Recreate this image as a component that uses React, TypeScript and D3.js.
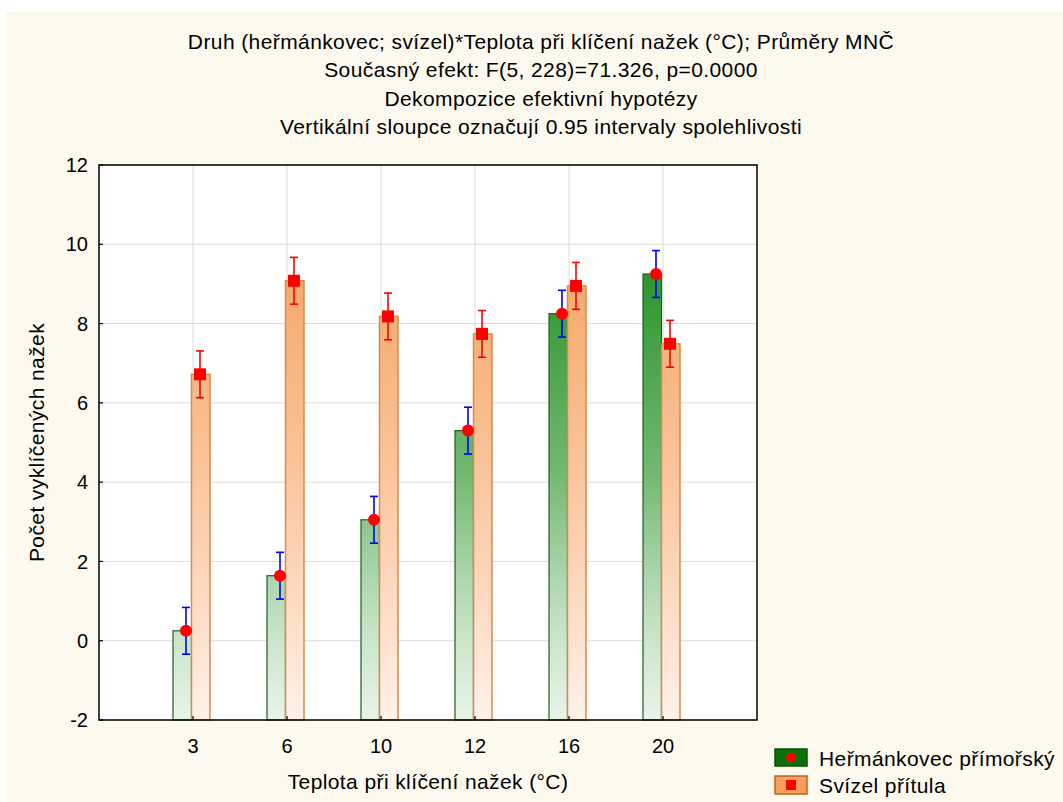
import React from "react";
import * as d3 from "d3";

// Teploty klíčení (°C)
const temperatures = ["3", "6", "10", "12", "16", "20"];
// Průměry MNČ – heřmánkovec přímořský
const hermankovec = [0.25, 1.64, 3.05, 5.3, 8.25, 9.25];
// Průměry MNČ – svízel přítula
const svizel = [6.72, 9.08, 8.18, 7.74, 8.95, 7.49];
// Poloviční šířky 0.95 intervalů spolehlivosti
const ciHermankovec = [0.59, 0.59, 0.59, 0.59, 0.59, 0.59];
const ciSvizel = [0.59, 0.59, 0.59, 0.59, 0.59, 0.59];
const yTicks = [-2, 0, 2, 4, 6, 8, 10, 12];

const titleLines = [
  "Druh (heřmánkovec; svízel)*Teplota při klíčení nažek (°C); Průměry MNČ",
  "Současný efekt: F(5, 228)=71.326, p=0.0000",
  "Dekompozice efektivní hypotézy",
  "Vertikální sloupce označují 0.95 intervaly spolehlivosti",
];

const W = 1063;
const H = 802;
const plot = { left: 99, right: 757, top: 165, bottom: 720 };
const font = "'Liberation Sans', Arial, sans-serif";
const textSize = 21;
const textSpacing = 0.4;
const tickSize = 20;

export default function App() {
  const x = d3
    .scalePoint<string>()
    .domain(temperatures)
    .range([plot.left, plot.right])
    .padding(1);
  const y = d3.scaleLinear().domain([-2, 12]).range([plot.bottom, plot.top]);

  const barW = 18.5;
  const greenOff = -20;
  const orangeOff = -1.5;
  const markGreen = -7;
  const markOrange = 7;
  const cap = 4;

  return (
    <svg
      width={W}
      height={H}
      style={{ position: "absolute", left: 0, top: 0, display: "block" }}
      fontFamily={font}
    >
      <defs>
        <linearGradient
          id="gGreen"
          gradientUnits="userSpaceOnUse"
          x1={0}
          y1={plot.top}
          x2={0}
          y2={plot.bottom}
        >
          <stop offset="0" stopColor="#1f8a1f" />
          <stop offset="0.2" stopColor="#2e962e" />
          <stop offset="0.56" stopColor="#74b974" />
          <stop offset="0.74" stopColor="#acd5ac" />
          <stop offset="0.84" stopColor="#c7e4c7" />
          <stop offset="1" stopColor="#e9f4e9" />
        </linearGradient>
        <linearGradient
          id="gOrange"
          gradientUnits="userSpaceOnUse"
          x1={0}
          y1={plot.top}
          x2={0}
          y2={plot.bottom}
        >
          <stop offset="0" stopColor="#f49c58" />
          <stop offset="0.2" stopColor="#f6a96c" />
          <stop offset="0.5" stopColor="#f9c093" />
          <stop offset="0.8" stopColor="#fddcc6" />
          <stop offset="1" stopColor="#fff2ea" />
        </linearGradient>
      </defs>

      <rect x={0} y={0} width={W} height={H} fill="#ffffff" />
      <rect x={6} y={12} width={W - 6} height={H - 12} fill="#fdf9ee" />
      <rect
        x={plot.left}
        y={plot.top}
        width={plot.right - plot.left}
        height={plot.bottom - plot.top}
        fill="#ffffff"
      />

      {/* mřížka */}
      {yTicks.map((t) => (
        <line
          key={"gy" + t}
          x1={plot.left}
          x2={plot.right}
          y1={y(t)}
          y2={y(t)}
          stroke="#dcdcdc"
          strokeWidth={1}
        />
      ))}
      {temperatures.map((c) => (
        <line
          key={"gx" + c}
          x1={x(c)}
          x2={x(c)}
          y1={plot.top}
          y2={plot.bottom}
          stroke="#dcdcdc"
          strokeWidth={1}
        />
      ))}

      {/* sloupce */}
      {temperatures.map((c, i) => {
        const cx = x(c) as number;
        return (
          <g key={"bars" + c}>
            <rect
              x={cx + greenOff}
              y={y(hermankovec[i])}
              width={barW}
              height={y(-2) - y(hermankovec[i])}
              fill="url(#gGreen)"
              stroke="#1f5f1f"
              strokeWidth={1.2}
            />
            <rect
              x={cx + orangeOff}
              y={y(svizel[i])}
              width={barW}
              height={y(-2) - y(svizel[i])}
              fill="url(#gOrange)"
              stroke="#d68a4e"
              strokeWidth={1.5}
            />
          </g>
        );
      })}

      {/* intervaly spolehlivosti a průměry */}
      {temperatures.map((c, i) => {
        const cx = x(c) as number;
        const gx = cx + markGreen;
        const ox = cx + markOrange;
        const gLo = y(hermankovec[i] - ciHermankovec[i]);
        const gHi = y(hermankovec[i] + ciHermankovec[i]);
        const oLo = y(svizel[i] - ciSvizel[i]);
        const oHi = y(svizel[i] + ciSvizel[i]);
        return (
          <g key={"err" + c}>
            <g stroke="#0000ff" strokeWidth={1.6}>
              <line x1={gx} x2={gx} y1={gLo} y2={gHi} />
              <line x1={gx - cap} x2={gx + cap} y1={gLo} y2={gLo} />
              <line x1={gx - cap} x2={gx + cap} y1={gHi} y2={gHi} />
            </g>
            <circle cx={gx} cy={y(hermankovec[i])} r={6} fill="#ff0000" />
            <g stroke="#ff0000" strokeWidth={1.6}>
              <line x1={ox} x2={ox} y1={oLo} y2={oHi} />
              <line x1={ox - cap} x2={ox + cap} y1={oLo} y2={oLo} />
              <line x1={ox - cap} x2={ox + cap} y1={oHi} y2={oHi} />
            </g>
            <rect
              x={ox - 6}
              y={y(svizel[i]) - 6}
              width={12}
              height={12}
              fill="#ff0000"
            />
          </g>
        );
      })}

      {/* rám a značky os */}
      <rect
        x={plot.left}
        y={plot.top}
        width={plot.right - plot.left}
        height={plot.bottom - plot.top}
        fill="none"
        stroke="#000"
        strokeWidth={1.5}
      />
      {temperatures.map((c) => (
        <line
          key={"tx" + c}
          x1={x(c)}
          x2={x(c)}
          y1={plot.bottom}
          y2={plot.bottom - 4}
          stroke="#000"
          strokeWidth={1.2}
        />
      ))}
      {yTicks.map((t) => (
        <line
          key={"ty" + t}
          x1={plot.left}
          x2={plot.left + 4}
          y1={y(t)}
          y2={y(t)}
          stroke="#000"
          strokeWidth={1.2}
        />
      ))}

      {/* popisky os */}
      {yTicks.map((t) => (
        <text
          key={"ly" + t}
          x={plot.left - 11}
          y={y(t)}
          dy="0.36em"
          textAnchor="end"
          fontSize={tickSize}
          fill="#000"
        >
          {t}
        </text>
      ))}
      {temperatures.map((c) => (
        <text
          key={"lx" + c}
          x={x(c)}
          y={753}
          textAnchor="middle"
          fontSize={tickSize}
          fill="#000"
        >
          {c}
        </text>
      ))}
      <text
        x={(plot.left + plot.right) / 2}
        y={789}
        textAnchor="middle"
        fontSize={textSize}
        letterSpacing={textSpacing}
        fill="#000"
      >
        Teplota při klíčení nažek (°C)
      </text>
      <text
        transform={`translate(44, ${(plot.top + plot.bottom) / 2}) rotate(-90)`}
        textAnchor="middle"
        fontSize={textSize}
        letterSpacing={textSpacing}
        fill="#000"
      >
        Počet vyklíčených nažek
      </text>

      {/* nadpis */}
      {titleLines.map((line, i) => (
        <text
          key={"t" + i}
          x={541}
          y={49 + i * 28.3}
          textAnchor="middle"
          fontSize={textSize}
          letterSpacing={textSpacing}
          fill="#000"
        >
          {line}
        </text>
      ))}

      {/* legenda */}
      <g>
        <rect x={775} y={749} width={32} height={17} fill="#0a700a" stroke="#0b4f0b" strokeWidth={1.5} />
        <circle cx={791} cy={757.5} r={5} fill="#ff0000" />
        <text x={819} y={766} fontSize={textSize} letterSpacing={textSpacing} fill="#000">
          Heřmánkovec přímořský
        </text>
        <rect x={775} y={776} width={32} height={18} fill="#f6a05a" stroke="#c0621c" strokeWidth={1.5} />
        <rect x={786} y={780} width={10} height={10} fill="#ff0000" />
        <text x={819} y={793} fontSize={textSize} letterSpacing={textSpacing} fill="#000">
          Svízel přítula
        </text>
      </g>
    </svg>
  );
}
